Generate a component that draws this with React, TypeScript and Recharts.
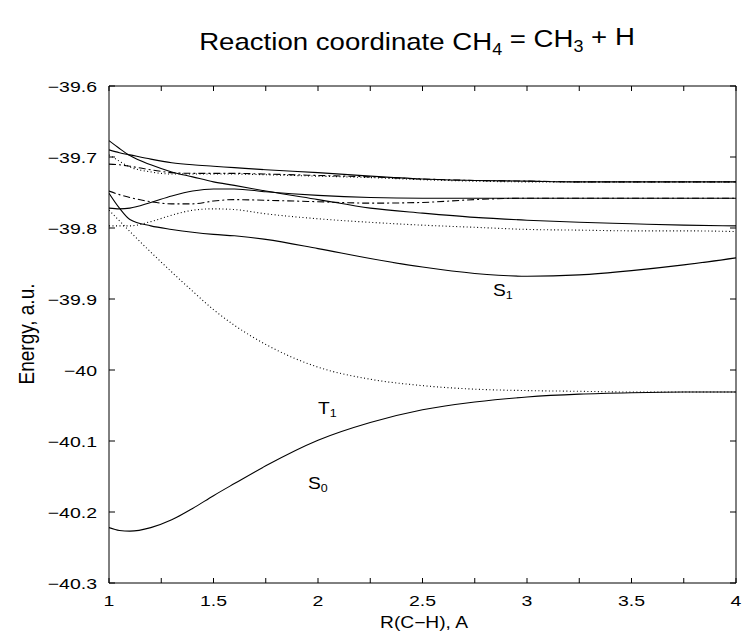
import React from "react";
import { LineChart, Line, XAxis, YAxis } from "recharts";

// Reaction coordinate R(C-H) in Angstrom
const rGrid = [1, 1.05, 1.1, 1.2, 1.3, 1.4, 1.5, 1.6, 1.75, 2, 2.25, 2.5, 2.75, 3, 3.25, 3.5, 3.75, 4];

// Energies (a.u.)
const eS0 = [-40.222, -40.226, -40.227, -40.222, -40.211, -40.195, -40.177, -40.16, -40.135, -40.099, -40.074, -40.056, -40.045, -40.038, -40.034, -40.032, -40.031, -40.031];
const eT1 = [-39.775, -39.79, -39.805, -39.834, -39.862, -39.889, -39.915, -39.937, -39.964, -39.996, -40.013, -40.022, -40.027, -40.029, -40.03, -40.031, -40.031, -40.031];
const eS1 = [-39.751, -39.772, -39.788, -39.797, -39.802, -39.806, -39.809, -39.811, -39.816, -39.829, -39.843, -39.855, -39.864, -39.868, -39.866, -39.86, -39.852, -39.842];
const eSa = [-39.677, -39.688, -39.698, -39.711, -39.721, -39.728, -39.735, -39.74, -39.748, -39.76, -39.772, -39.779, -39.785, -39.789, -39.792, -39.794, -39.796, -39.797];
const eSb = [-39.69, -39.694, -39.697, -39.703, -39.708, -39.711, -39.713, -39.715, -39.718, -39.722, -39.727, -39.731, -39.733, -39.734, -39.735, -39.735, -39.735, -39.735];
const eSc = [-39.772, -39.773, -39.772, -39.764, -39.755, -39.748, -39.745, -39.745, -39.749, -39.754, -39.757, -39.758, -39.758, -39.758, -39.758, -39.758, -39.758, -39.758];
const eTa = [-39.697, -39.706, -39.714, -39.721, -39.724, -39.724, -39.724, -39.724, -39.725, -39.727, -39.729, -39.732, -39.734, -39.735, -39.735, -39.735, -39.735, -39.735];
const eTb = [-39.797, -39.797, -39.797, -39.791, -39.782, -39.775, -39.773, -39.774, -39.78, -39.787, -39.792, -39.796, -39.799, -39.802, -39.803, -39.804, -39.804, -39.805];
const eDa = [-39.71, -39.711, -39.713, -39.718, -39.722, -39.723, -39.723, -39.723, -39.724, -39.726, -39.728, -39.731, -39.733, -39.734, -39.735, -39.735, -39.735, -39.735];
const eDb = [-39.748, -39.753, -39.757, -39.763, -39.766, -39.766, -39.762, -39.76, -39.761, -39.763, -39.765, -39.764, -39.76, -39.758, -39.758, -39.758, -39.758, -39.758];

const xTicks = [1, 1.25, 1.5, 1.75, 2, 2.25, 2.5, 2.75, 3, 3.25, 3.5, 3.75, 4];
const yTicks = [-40.3, -40.2, -40.1, -40, -39.9, -39.8, -39.7, -39.6];

const series = [
  { key: "S0", vals: eS0, dash: undefined },
  { key: "T1", vals: eT1, dash: "1 2.5" },
  { key: "S1", vals: eS1, dash: undefined },
  { key: "Sa", vals: eSa, dash: undefined },
  { key: "Sb", vals: eSb, dash: undefined },
  { key: "Sc", vals: eSc, dash: undefined },
  { key: "Ta", vals: eTa, dash: "1 2.5" },
  { key: "Tb", vals: eTb, dash: "1 2.5" },
  { key: "Da", vals: eDa, dash: "7 3 2 3" },
  { key: "Db", vals: eDb, dash: "7 3 2 3" },
];

const data = rGrid.map((r, i) => {
  const row: Record<string, number> = { x: r };
  series.forEach((s) => {
    row[s.key] = s.vals[i];
  });
  return row;
});

const FONT = "'Liberation Sans', Arial, Helvetica, sans-serif";
const SX = 1.3;
const TICK_FS = 15;

const fmt = (v: number) => {
  const s = String(Math.round(v * 10) / 10);
  return s.replace("-", "\u2212");
};

const BottomTick = (props: any) => {
  const { x, y, payload } = props;
  const v = payload.value;
  const labeled = Math.abs(v * 2 - Math.round(v * 2)) < 1e-6;
  return (
    <g>
      <line x1={x} y1={y} x2={x} y2={y - 5} stroke="#000" strokeWidth={1} />
      {labeled && (
        <text
          transform={`translate(${x},${y + 23}) scale(${SX},1)`}
          textAnchor="middle"
          fontSize={TICK_FS}
          fontFamily={FONT}
          fill="#000"
        >
          {String(v)}
        </text>
      )}
    </g>
  );
};

const TopTick = (props: any) => {
  const { x, y } = props;
  return <line x1={x} y1={y} x2={x} y2={y + 5} stroke="#000" strokeWidth={1} />;
};

const LeftTick = (props: any) => {
  const { x, y, payload } = props;
  return (
    <g>
      <line x1={x} y1={y} x2={x + 6} y2={y} stroke="#000" strokeWidth={1} />
      <text
        transform={`translate(${x - 12},${y + 5.5}) scale(${SX},1)`}
        textAnchor="end"
        fontSize={TICK_FS}
        fontFamily={FONT}
        fill="#000"
      >
        {fmt(payload.value)}
      </text>
    </g>
  );
};

const RightTick = (props: any) => {
  const { x, y } = props;
  return <line x1={x} y1={y} x2={x - 6} y2={y} stroke="#000" strokeWidth={1} />;
};

const Sub = ({ children }: { children: React.ReactNode }) => (
  <tspan fontSize="0.65em" dy="0.3em">
    {children}
  </tspan>
);

export default function App() {
  return (
    <div
      style={{
        position: "fixed",
        left: 8,
        top: 8,
        width: 734,
        height: 626,
        background: "#fff",
        overflow: "visible",
      }}
    >
      <LineChart
        width={734}
        height={626}
        data={data}
        margin={{ top: 48, right: 5, bottom: 21, left: 41 }}
        style={{ overflow: "visible" }}
      >
        <XAxis
          dataKey="x"
          type="number"
          domain={[1, 4]}
          allowDataOverflow
          ticks={xTicks}
          interval={0}
          height={30}
          tickLine={false}
          tickSize={0}
          tickMargin={0}
          tick={<BottomTick />}
          axisLine={{ stroke: "#000" }}
        />
        <XAxis
          xAxisId="top"
          orientation="top"
          dataKey="x"
          type="number"
          domain={[1, 4]}
          allowDataOverflow
          ticks={xTicks}
          interval={0}
          height={30}
          tickLine={false}
          tickSize={0}
          tickMargin={0}
          tick={<TopTick />}
          axisLine={{ stroke: "#000" }}
        />
        <YAxis
          type="number"
          domain={[-40.3, -39.6]}
          allowDataOverflow
          ticks={yTicks}
          interval={0}
          width={60}
          tickLine={false}
          tickSize={0}
          tickMargin={0}
          tick={<LeftTick />}
          axisLine={{ stroke: "#000" }}
        />
        <YAxis
          yAxisId="right"
          orientation="right"
          type="number"
          domain={[-40.3, -39.6]}
          allowDataOverflow
          ticks={yTicks}
          interval={0}
          width={1}
          tickLine={false}
          tickSize={0}
          tickMargin={0}
          tick={<RightTick />}
          axisLine={{ stroke: "#000" }}
        />
        {series.map((s) => (
          <Line
            key={s.key}
            dataKey={s.key}
            type="monotone"
            stroke="#000"
            strokeWidth={1.1}
            strokeDasharray={s.dash}
            dot={false}
            activeDot={false}
            isAnimationActive={false}
          />
        ))}
      </LineChart>
      <svg
        width={734}
        height={626}
        style={{ position: "absolute", left: 0, top: 0, pointerEvents: "none" }}
        fontFamily={FONT}
        fill="#000"
      >
        <text transform={`translate(409,42) scale(1.15,1)`} textAnchor="middle" fontSize={24}>
          Reaction coordinate CH<Sub>4</Sub>
          <tspan dy="-0.3em"> = CH</tspan>
          <Sub>3</Sub>
          <tspan dy="-0.3em"> + H</tspan>
        </text>
        <text
          transform="translate(26,326) rotate(-90) scale(1,1.2)"
          textAnchor="middle"
          fontSize={19}
        >
          Energy, a.u.
        </text>
        <text transform="translate(416,620) scale(1.2,1)" textAnchor="middle" fontSize={16}>
          R(C{"\u2212"}H), A
        </text>
        <text transform="translate(485,288) scale(1.2,1)" fontSize={16}>
          S<Sub>1</Sub>
        </text>
        <text transform="translate(310,406) scale(1.2,1)" fontSize={16}>
          T<Sub>1</Sub>
        </text>
        <text transform="translate(300,481) scale(1.2,1)" fontSize={16}>
          S<Sub>0</Sub>
        </text>
      </svg>
    </div>
  );
}
